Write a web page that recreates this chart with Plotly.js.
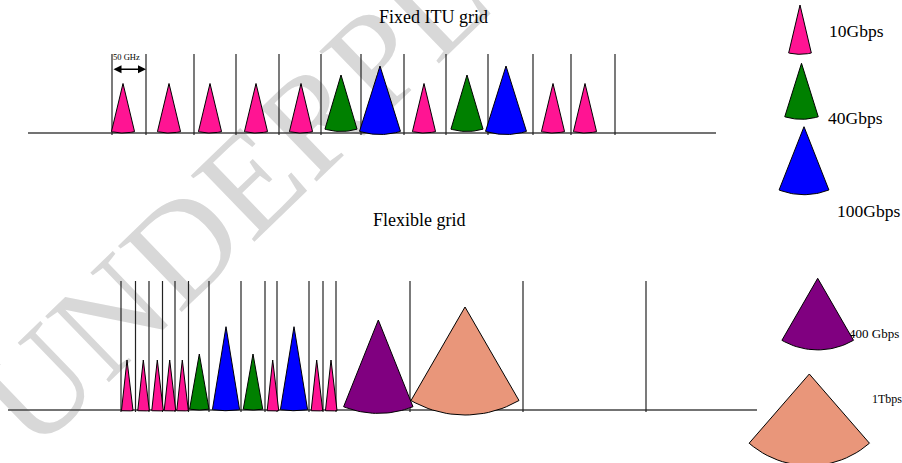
<!DOCTYPE html>
<html>
<head>
<meta charset="utf-8">
<script src="https://cdn.plot.ly/plotly-3.0.1.min.js"></script>
<style>html,body{margin:0;padding:0;background:#fff;}#chart{width:902px;height:463px;}</style>
</head>
<body>
<div id="chart"></div>
<script>
// ---------------- DATA ----------------
// Fixed ITU grid: channel boundaries and carriers (x positions along the spectrum axis)
const fixedGridEdges   = [112, 146, 194, 236, 279, 321, 361, 404, 446, 488, 533, 571, 615];
const fixedCarrierPos  = [123, 169, 210, 256, 301, 341, 380, 424, 467, 506, 553, 585];
const fixedCarrierRate = ['10G','10G','10G','10G','10G','40G','100G','10G','40G','100G','10G','10G'];

// Flexible grid: slot boundaries and carriers
const flexGridEdges   = [121, 135.5, 149, 162.5, 175, 188.5, 209, 241, 265, 277, 309, 323, 336, 410, 523, 646];
const flexCarrierPos  = [127, 143.3, 157.3, 169.7, 182.3, 199.3, 226, 253, 272.7, 294, 316.7, 331, 378.3, 465];
const flexCarrierRate = ['10G','10G','10G','10G','10G','40G','100G','40G','10G','100G','10G','10G','400G','1T'];

// Legend
const legendRates  = ['10G','40G','100G','400G','1T'];
const legendLabels = ['10Gbps','40Gbps','100Gbps','400 Gbps','1Tbps'];

// Titles / texts
const titleFixed = 'Fixed ITU grid';
const titleFlex  = 'Flexible grid';
const spacingLabel = '50 GHz';
const watermarkText = 'UNDERPL';

// ---------------- STYLE / LAYOUT TABLES ----------------
const rateColor = {'10G':'#FF1493','40G':'#008000','100G':'#0000FF','400G':'#800080','1T':'#E9967A'};
// cone = circular sector: radius r, half-angle a (deg), sink = how far arc bottom goes below baseline
const fixedStyle = {'10G':{r:49.5,a:13.5,sink:0},'40G':{r:56.5,a:16.5,sink:-1.5},'100G':{r:68.5,a:17.4,sink:1.5}};
const flexStyle  = {'10G':{r:51,a:6.8,sink:1},'40G':{r:56,a:10,sink:0},'100G':{r:84,a:9.3,sink:0.7},
                    '400G':{r:93.4,a:21.8,sink:3.4},'1T':{r:108,a:30,sink:5}};
const legendPlace = {'10G':{x:800,y:5,r:49.3,a:13.3},'40G':{x:801.5,y:63.3,r:56,a:17.4},
                     '100G':{x:804,y:126.7,r:68,a:21.5},'400G':{x:817.7,y:278.3,r:71.6,a:30},
                     '1T':{x:809.3,y:374,r:91.7,a:41}};
const legendText = [{x:829,y:33,s:17.5},{x:828,y:120,s:17.5},{x:837,y:213,s:17.5},{x:849,y:335,s:13},{x:872,y:400,s:12}];
const rowFixed = {base:133, x0:28, x1:716, lineTop:54, lineBot:135};
const rowFlex  = {base:410, x0:8, x1:757, lineTop:281, lineBot:412};

const FONT = 'Liberation Serif, Times New Roman, serif';

// ---------------- BUILD ----------------
function sector(cx, apexY, r, aDeg){
  const xs=[cx], ys=[apexY];
  const a=aDeg*Math.PI/180, n=24;
  for(let i=0;i<=n;i++){
    const t=-a+2*a*i/n;
    xs.push(cx + r*Math.sin(t)); ys.push(apexY + r*Math.cos(t));
  }
  xs.push(cx); ys.push(apexY);
  return {xs,ys};
}
function coneTrace(cx, apexY, r, a, color){
  const s=sector(cx,apexY,r,a);
  return {type:'scatter',mode:'lines',x:s.xs,y:s.ys,fill:'toself',fillcolor:color,
          line:{color:'#000',width:1},hoverinfo:'skip',showlegend:false};
}
function gridLines(edges,row){
  const x=[],y=[];
  edges.forEach(e=>{x.push(e,e,null);y.push(row.lineTop,row.lineBot,null);});
  return {type:'scatter',mode:'lines',x,y,line:{color:'#222',width:1.2},hoverinfo:'skip',showlegend:false};
}
function baseLine(row){
  return {type:'scatter',mode:'lines',x:[row.x0,row.x1],y:[row.base,row.base],
          line:{color:'#444',width:1.5},hoverinfo:'skip',showlegend:false};
}

const traces=[];
// legend labels first (so cones may overlap them)
traces.push({type:'scatter',mode:'text',x:legendText.map(d=>d.x),y:legendText.map(d=>d.y),
  text:legendLabels,textposition:'middle right',
  textfont:{family:FONT,size:legendText.map(d=>d.s),color:'#000'},hoverinfo:'skip',showlegend:false});

traces.push(baseLine(rowFixed), gridLines(fixedGridEdges,rowFixed));
traces.push(baseLine(rowFlex), gridLines(flexGridEdges,rowFlex));

fixedCarrierPos.forEach((x,i)=>{
  const st=fixedStyle[fixedCarrierRate[i]];
  traces.push(coneTrace(x,rowFixed.base+st.sink-st.r,st.r,st.a,rateColor[fixedCarrierRate[i]]));
});
flexCarrierPos.forEach((x,i)=>{
  const st=flexStyle[flexCarrierRate[i]];
  traces.push(coneTrace(x,rowFlex.base+st.sink-st.r,st.r,st.a,rateColor[flexCarrierRate[i]]));
});
legendRates.forEach(rt=>{
  const p=legendPlace[rt];
  traces.push(coneTrace(p.x,p.y,p.r,p.a,rateColor[rt]));
});

const layout={
  width:902,height:463,margin:{l:0,r:0,t:0,b:0},
  paper_bgcolor:'#fff',plot_bgcolor:'#fff',showlegend:false,hovermode:false,
  xaxis:{range:[0,902],visible:false,fixedrange:true},
  yaxis:{range:[463,0],visible:false,fixedrange:true},
  shapes:[{type:'rect',xref:'x',yref:'y',x0:221,x1:223,y0:185,y1:187,layer:'below',
    line:{width:0},fillcolor:'rgba(0,0,0,0)',
    label:{text:watermarkText,textangle:-44,textposition:'middle center',
      font:{family:FONT,size:140,color:'#d8d8d8'}}}],
  annotations:[
    {x:433.5,y:17,xref:'x',yref:'y',text:titleFixed,showarrow:false,font:{family:FONT,size:18,color:'#000'}},
    {x:419.5,y:220,xref:'x',yref:'y',text:titleFlex,showarrow:false,font:{family:FONT,size:18,color:'#000'}},
    {x:126,y:57,xref:'x',yref:'y',text:spacingLabel,showarrow:false,font:{family:FONT,size:8.5,color:'#000'}},
    {x:146,y:69.3,ax:112,ay:69.3,xref:'x',yref:'y',axref:'x',ayref:'y',text:'',showarrow:true,
     arrowside:'end+start',arrowhead:2,arrowsize:1,arrowwidth:1.6,arrowcolor:'#000',standoff:0,startstandoff:0}
  ]
};
Plotly.newPlot('chart',traces,layout,{staticPlot:true,displayModeBar:false});
</script>
</body>
</html>
